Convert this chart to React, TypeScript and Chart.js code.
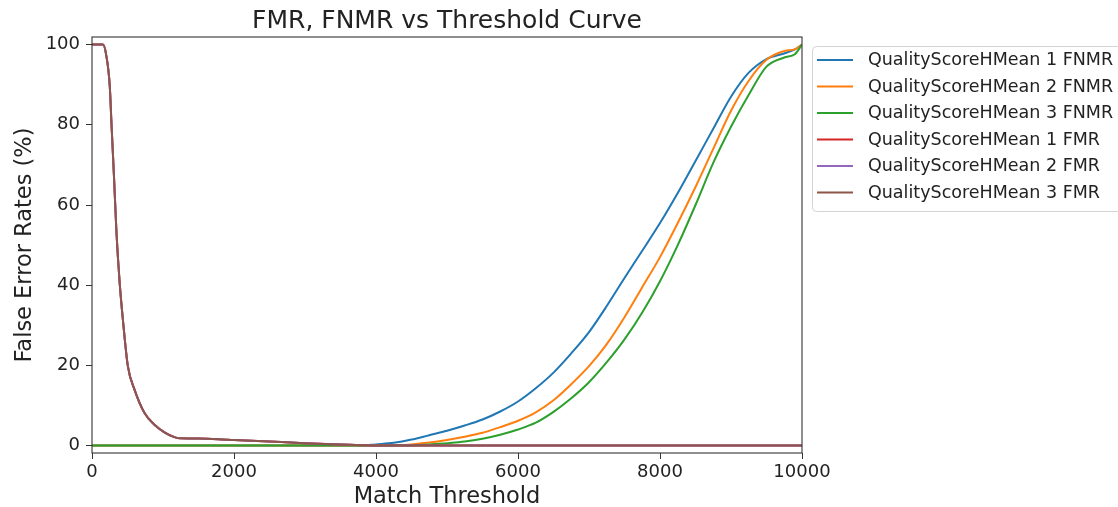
import React, { useEffect, useRef } from 'react';
import { Chart, registerables } from 'chart.js';

Chart.register(...registerables);

const TITLE = 'FMR, FNMR vs Threshold Curve';
const X_LABEL = 'Match Threshold';
const Y_LABEL = 'False Error Rates (%)';
const X_TICKS = [0, 2000, 4000, 6000, 8000, 10000];
const Y_TICKS = [0, 20, 40, 60, 80, 100];

const SERIES_LABELS = [
  'QualityScoreHMean 1 FNMR',
  'QualityScoreHMean 2 FNMR',
  'QualityScoreHMean 3 FNMR',
  'QualityScoreHMean 1 FMR',
  'QualityScoreHMean 2 FMR',
  'QualityScoreHMean 3 FMR',
];
const SERIES_COLORS = ['#1f77b4', '#ff7f0e', '#2ca02c', '#d62728', '#9467bd', '#8c564b'];

const FNMR_THRESHOLDS = [0, 3800, 4000, 4250, 4500, 4750, 5000, 5250, 5500, 5750, 6000, 6250, 6500, 6750, 7000, 7250, 7500, 7750, 8000, 8250, 8500, 8750, 9000, 9250, 9500, 9750, 9900, 10000];
const FNMR_1 = [0, 0, 0.3, 0.7, 1.5, 2.6, 3.7, 5.0, 6.5, 8.5, 11.0, 14.3, 18.2, 23.0, 28.3, 34.8, 41.8, 48.6, 55.5, 63.0, 71.0, 79.0, 87.0, 93.0, 96.4, 97.8, 98.8, 100];
const FNMR_2 = [0, 0, 0, 0.1, 0.3, 0.75, 1.4, 2.2, 3.2, 4.6, 6.2, 8.3, 11.3, 15.3, 19.8, 25.3, 32.0, 39.5, 47.0, 55.5, 64.5, 74.0, 83.5, 91.0, 96.2, 98.4, 98.8, 100];
const FNMR_3 = [0, 0, 0, 0, 0, 0.3, 0.6, 1.0, 1.7, 2.7, 4.0, 5.7, 8.4, 11.8, 15.8, 20.8, 26.5, 33.2, 41.0, 50.0, 60.0, 70.5, 79.5, 87.5, 94.5, 96.8, 97.6, 100];

const FMR_THRESHOLDS = [0, 100, 155, 200, 250, 275, 310, 345, 390, 440, 505, 600, 740, 880, 1020, 1160, 1200, 1500, 1775, 2000, 2500, 3000, 3500, 3800, 4000, 10000];
const FMR_1 = [100, 100, 100, 97.4, 89.7, 80, 67, 53, 40.5, 30.5, 19.8, 13.9, 8.1, 5.2, 3.3, 2.1, 1.9, 1.75, 1.6, 1.4, 1.0, 0.6, 0.3, 0.1, 0, 0];
const FMR_2 = [100, 100, 100, 97.4, 89.7, 80, 67, 53, 40.5, 30.5, 19.8, 13.9, 8.1, 5.2, 3.3, 2.1, 1.9, 1.75, 1.6, 1.4, 1.0, 0.6, 0.3, 0.1, 0, 0];
const FMR_3 = [100, 100, 100, 97.4, 89.7, 80, 67, 53, 40.5, 30.5, 19.8, 13.9, 8.1, 5.2, 3.3, 2.1, 1.9, 1.75, 1.6, 1.4, 1.0, 0.6, 0.3, 0.1, 0, 0];

const W = 1118;
const H = 507;
const PLOT = { left: 92, top: 37, right: 802, bottom: 453 };
const FONT = '"DejaVu Sans", sans-serif';
const TEXT = '#222';

const framePlugin = {
  id: 'mplFrame',
  afterDatasetsDraw(chart: any) {
    const { ctx, chartArea } = chart;
    ctx.save();
    ctx.strokeStyle = '#333';
    ctx.lineWidth = 1.1;
    ctx.strokeRect(chartArea.left, chartArea.top, chartArea.right - chartArea.left, chartArea.bottom - chartArea.top);
    ctx.restore();
  },
};

const legendPlugin = {
  id: 'mplLegend',
  afterDraw(chart: any) {
    const ctx = chart.ctx;
    ctx.save();
    ctx.beginPath();
    const bx = 812.5, by = 46.5, bw = 330, bh = 165;
    if (ctx.roundRect) ctx.roundRect(bx, by, bw, bh, 4);
    else ctx.rect(bx, by, bw, bh);
    ctx.fillStyle = 'rgba(255,255,255,0.85)';
    ctx.fill();
    ctx.strokeStyle = '#d4d4d4';
    ctx.lineWidth = 1;
    ctx.stroke();
    ctx.font = `17.5px ${FONT}`;
    ctx.textBaseline = 'middle';
    ctx.textAlign = 'left';
    chart.data.datasets.forEach((ds: any, i: number) => {
      const y = 60 + i * 26.5;
      ctx.strokeStyle = ds.borderColor;
      ctx.lineWidth = 2;
      ctx.beginPath();
      ctx.moveTo(817, y);
      ctx.lineTo(853, y);
      ctx.stroke();
      ctx.fillStyle = TEXT;
      ctx.fillText(ds.label, 868, y + 0.7);
    });
    ctx.restore();
  },
};

export default function App() {
  const ref = useRef<HTMLCanvasElement | null>(null);

  useEffect(() => {
    if (!ref.current) return;
    const xs = [FNMR_THRESHOLDS, FNMR_THRESHOLDS, FNMR_THRESHOLDS, FMR_THRESHOLDS, FMR_THRESHOLDS, FMR_THRESHOLDS];
    const ys = [FNMR_1, FNMR_2, FNMR_3, FMR_1, FMR_2, FMR_3];
    const datasets = SERIES_LABELS.map((label, i) => ({
      label,
      data: xs[i].map((x, j) => ({ x, y: ys[i][j] })),
      borderColor: SERIES_COLORS[i],
      backgroundColor: SERIES_COLORS[i],
      borderWidth: 2,
      pointRadius: 0,
      cubicInterpolationMode: 'monotone',
      fill: false,
      order: SERIES_LABELS.length - 1 - i,
    }));

    const chart = new Chart(ref.current, {
      type: 'line',
      data: { datasets },
      options: {
        responsive: false,
        animation: false,
        events: [],
        layout: { padding: { left: 0, top: 0, right: W - PLOT.right, bottom: 0 } },
        plugins: {
          legend: { display: false },
          tooltip: { enabled: false },
          title: {
            display: true,
            text: TITLE,
            fullSize: false,
            color: TEXT,
            font: { family: FONT, size: 25, weight: 'normal', lineHeight: 1.2 },
            padding: { top: 6.7, bottom: 0.3 },
          },
        },
        scales: {
          x: {
            type: 'linear',
            min: 0,
            max: 10000,
            afterBuildTicks: (s: any) => {
              s.ticks = X_TICKS.map((v) => ({ value: v }));
            },
            afterFit: (s: any) => {
              s.height = H - PLOT.bottom;
            },
            grid: { drawOnChartArea: false, drawTicks: true, tickLength: 6, tickColor: '#333', tickWidth: 1 },
            border: { display: false },
            ticks: {
              color: TEXT,
              font: { family: FONT, size: 18 },
              padding: 2.2,
              maxRotation: 0,
              autoSkip: false,
              callback: (v: any) => String(v),
            },
            title: {
              display: true,
              text: X_LABEL,
              color: TEXT,
              font: { family: FONT, size: 22.5, lineHeight: 0.9 },
              padding: { top: 0, bottom: 0 },
            },
          },
          y: {
            type: 'linear',
            min: -1.85,
            max: 101.9,
            afterBuildTicks: (s: any) => {
              s.ticks = Y_TICKS.map((v) => ({ value: v }));
            },
            afterFit: (s: any) => {
              s.width = PLOT.left;
            },
            grid: { drawOnChartArea: false, drawTicks: true, tickLength: 6, tickColor: '#333', tickWidth: 1 },
            border: { display: false },
            ticks: {
              color: TEXT,
              font: { family: FONT, size: 18 },
              padding: 6,
              autoSkip: false,
              callback: (v: any) => String(v),
            },
            title: {
              display: true,
              text: Y_LABEL,
              color: TEXT,
              font: { family: FONT, size: 22.5, lineHeight: 1.2 },
              padding: { top: 12, bottom: 0 },
            },
          },
        },
      },
      plugins: [framePlugin, legendPlugin],
    } as any);

    return () => chart.destroy();
  }, []);

  return (
    <div style={{ position: 'absolute', left: 0, top: 0, width: W, height: H, background: '#fff' }}>
      <canvas ref={ref} width={W} height={H} style={{ display: 'block', width: W, height: H }} />
    </div>
  );
}
